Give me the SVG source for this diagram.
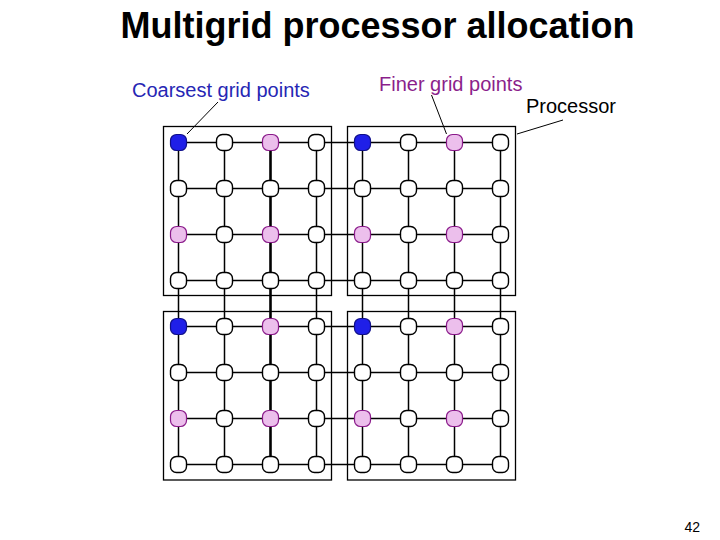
<svg xmlns="http://www.w3.org/2000/svg" width="720" height="540" viewBox="0 0 720 540">
<style>
.bg{fill:#fff}
.proc{fill:none;stroke:#000;stroke-width:1.3}
.grid{stroke:#000;stroke-width:1.5;fill:none}
.thick{stroke-width:2.6}
.lead{stroke:#000;stroke-width:1;fill:none}
.w{fill:#fff;stroke:#000;stroke-width:1.4}
.c{fill:#1f1fe8;stroke:#10108a;stroke-width:1.2}
.f{fill:#ecbfec;stroke:#8a1a8a;stroke-width:1.2}
.title{font-family:"Liberation Sans",Arial,sans-serif;font-weight:bold;font-size:36px;fill:#000}
.lbl{font-family:"Liberation Sans",Arial,sans-serif;font-size:20px}
</style>
<defs>
<rect id="nd" x="-8" y="-8" width="16" height="16" rx="6"/>
</defs>
<rect class="bg" x="0" y="0" width="720" height="540"/>
<text class="title" x="377.5" y="38" text-anchor="middle">Multigrid processor allocation</text>

<g id="proc-tl"><rect class="proc" x="163.5" y="126.5" width="168" height="169"/></g>
<g id="proc-tr"><rect class="proc" x="347.5" y="126.5" width="168" height="169"/></g>
<g id="proc-bl"><rect class="proc" x="163.5" y="311.5" width="168" height="168.5"/></g>
<g id="proc-br"><rect class="proc" x="347.5" y="311.5" width="168" height="168.5"/></g>

<g id="connectors">
<path class="grid" d="M178.5 142.5H500.5M178.5 188.5H500.5M178.5 234.5H500.5M178.5 280.5H500.5M178.5 326.5H500.5M178.5 372.5H500.5M178.5 418.5H500.5M178.5 464.5H500.5"/>
<path class="grid" d="M178.5 142.5V464.5M224.5 142.5V464.5M316.5 142.5V464.5M362.5 142.5V464.5M408.5 142.5V464.5M454.5 142.5V464.5M500.5 142.5V464.5"/>
<path class="grid thick" d="M270.5 142.5V464.5"/>
<path class="lead" d="M218 102L187 134"/>
<path class="lead" d="M431.5 95L446.5 134"/>
<path class="lead" d="M563 120L517 134"/>
</g>

<g id="n-0-0"><use href="#nd" class="c" x="178.5" y="142.5"/></g>
<g id="n-0-1"><use href="#nd" class="w" x="224.5" y="142.5"/></g>
<g id="n-0-2"><use href="#nd" class="f" x="270.5" y="142.5"/></g>
<g id="n-0-3"><use href="#nd" class="w" x="316.5" y="142.5"/></g>
<g id="n-0-4"><use href="#nd" class="c" x="362.5" y="142.5"/></g>
<g id="n-0-5"><use href="#nd" class="w" x="408.5" y="142.5"/></g>
<g id="n-0-6"><use href="#nd" class="f" x="454.5" y="142.5"/></g>
<g id="n-0-7"><use href="#nd" class="w" x="500.5" y="142.5"/></g>

<g id="n-1-0"><use href="#nd" class="w" x="178.5" y="188.5"/></g>
<g id="n-1-1"><use href="#nd" class="w" x="224.5" y="188.5"/></g>
<g id="n-1-2"><use href="#nd" class="w" x="270.5" y="188.5"/></g>
<g id="n-1-3"><use href="#nd" class="w" x="316.5" y="188.5"/></g>
<g id="n-1-4"><use href="#nd" class="w" x="362.5" y="188.5"/></g>
<g id="n-1-5"><use href="#nd" class="w" x="408.5" y="188.5"/></g>
<g id="n-1-6"><use href="#nd" class="w" x="454.5" y="188.5"/></g>
<g id="n-1-7"><use href="#nd" class="w" x="500.5" y="188.5"/></g>

<g id="n-2-0"><use href="#nd" class="f" x="178.5" y="234.5"/></g>
<g id="n-2-1"><use href="#nd" class="w" x="224.5" y="234.5"/></g>
<g id="n-2-2"><use href="#nd" class="f" x="270.5" y="234.5"/></g>
<g id="n-2-3"><use href="#nd" class="w" x="316.5" y="234.5"/></g>
<g id="n-2-4"><use href="#nd" class="f" x="362.5" y="234.5"/></g>
<g id="n-2-5"><use href="#nd" class="w" x="408.5" y="234.5"/></g>
<g id="n-2-6"><use href="#nd" class="f" x="454.5" y="234.5"/></g>
<g id="n-2-7"><use href="#nd" class="w" x="500.5" y="234.5"/></g>

<g id="n-3-0"><use href="#nd" class="w" x="178.5" y="280.5"/></g>
<g id="n-3-1"><use href="#nd" class="w" x="224.5" y="280.5"/></g>
<g id="n-3-2"><use href="#nd" class="w" x="270.5" y="280.5"/></g>
<g id="n-3-3"><use href="#nd" class="w" x="316.5" y="280.5"/></g>
<g id="n-3-4"><use href="#nd" class="w" x="362.5" y="280.5"/></g>
<g id="n-3-5"><use href="#nd" class="w" x="408.5" y="280.5"/></g>
<g id="n-3-6"><use href="#nd" class="w" x="454.5" y="280.5"/></g>
<g id="n-3-7"><use href="#nd" class="w" x="500.5" y="280.5"/></g>

<g id="n-4-0"><use href="#nd" class="c" x="178.5" y="326.5"/></g>
<g id="n-4-1"><use href="#nd" class="w" x="224.5" y="326.5"/></g>
<g id="n-4-2"><use href="#nd" class="f" x="270.5" y="326.5"/></g>
<g id="n-4-3"><use href="#nd" class="w" x="316.5" y="326.5"/></g>
<g id="n-4-4"><use href="#nd" class="c" x="362.5" y="326.5"/></g>
<g id="n-4-5"><use href="#nd" class="w" x="408.5" y="326.5"/></g>
<g id="n-4-6"><use href="#nd" class="f" x="454.5" y="326.5"/></g>
<g id="n-4-7"><use href="#nd" class="w" x="500.5" y="326.5"/></g>

<g id="n-5-0"><use href="#nd" class="w" x="178.5" y="372.5"/></g>
<g id="n-5-1"><use href="#nd" class="w" x="224.5" y="372.5"/></g>
<g id="n-5-2"><use href="#nd" class="w" x="270.5" y="372.5"/></g>
<g id="n-5-3"><use href="#nd" class="w" x="316.5" y="372.5"/></g>
<g id="n-5-4"><use href="#nd" class="w" x="362.5" y="372.5"/></g>
<g id="n-5-5"><use href="#nd" class="w" x="408.5" y="372.5"/></g>
<g id="n-5-6"><use href="#nd" class="w" x="454.5" y="372.5"/></g>
<g id="n-5-7"><use href="#nd" class="w" x="500.5" y="372.5"/></g>

<g id="n-6-0"><use href="#nd" class="f" x="178.5" y="418.5"/></g>
<g id="n-6-1"><use href="#nd" class="w" x="224.5" y="418.5"/></g>
<g id="n-6-2"><use href="#nd" class="f" x="270.5" y="418.5"/></g>
<g id="n-6-3"><use href="#nd" class="w" x="316.5" y="418.5"/></g>
<g id="n-6-4"><use href="#nd" class="f" x="362.5" y="418.5"/></g>
<g id="n-6-5"><use href="#nd" class="w" x="408.5" y="418.5"/></g>
<g id="n-6-6"><use href="#nd" class="f" x="454.5" y="418.5"/></g>
<g id="n-6-7"><use href="#nd" class="w" x="500.5" y="418.5"/></g>

<g id="n-7-0"><use href="#nd" class="w" x="178.5" y="464.5"/></g>
<g id="n-7-1"><use href="#nd" class="w" x="224.5" y="464.5"/></g>
<g id="n-7-2"><use href="#nd" class="w" x="270.5" y="464.5"/></g>
<g id="n-7-3"><use href="#nd" class="w" x="316.5" y="464.5"/></g>
<g id="n-7-4"><use href="#nd" class="w" x="362.5" y="464.5"/></g>
<g id="n-7-5"><use href="#nd" class="w" x="408.5" y="464.5"/></g>
<g id="n-7-6"><use href="#nd" class="w" x="454.5" y="464.5"/></g>
<g id="n-7-7"><use href="#nd" class="w" x="500.5" y="464.5"/></g>

<g id="label-coarsest"><text class="lbl" x="132" y="97" fill="#2626b4" font-size="20.3">Coarsest grid points</text></g>
<g id="label-finer"><text class="lbl" x="379" y="91" fill="#8b1f8b">Finer grid points</text></g>
<g id="label-processor"><text class="lbl" x="526" y="113" fill="#000">Processor</text></g>
<text x="700" y="532" text-anchor="end" font-family="Liberation Sans, Arial, sans-serif" font-size="14" fill="#000">42</text>
</svg>
